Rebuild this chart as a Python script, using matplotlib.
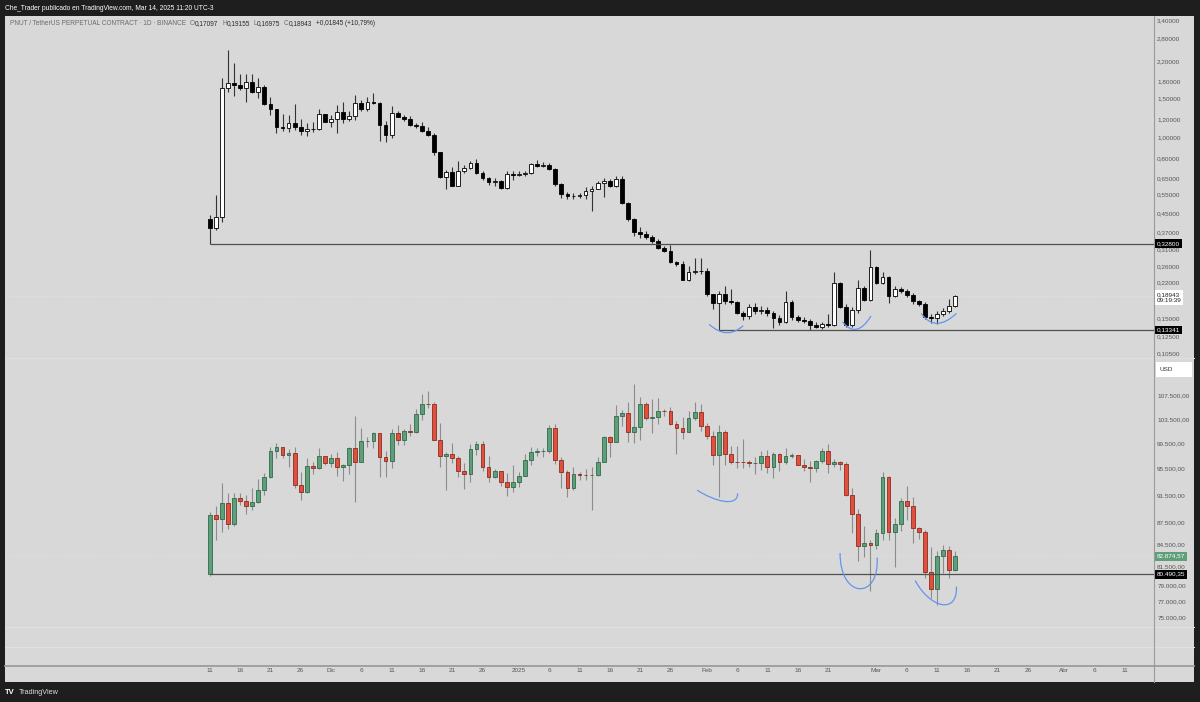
import numpy as np
import pandas as pd
import matplotlib
matplotlib.use("Agg")
import matplotlib.pyplot as plt
import matplotlib.dates as mdates
from matplotlib.path import Path
from matplotlib.patches import PathPatch, Rectangle
from matplotlib.lines import Line2D
from matplotlib.ticker import NullLocator
from matplotlib.transforms import blended_transform_factory

# ---- data -------------------------------------------------------------
dates = pd.date_range("2024-11-11", "2025-03-14", freq="D")

pnut_open = [0.425, 0.386, 0.436, 1.678, 1.757, 1.73, 1.68, 1.775, 1.60, 1.685,
             1.415, 1.343, 1.116, 1.10, 1.156, 1.116, 1.07, 1.085, 1.09, 1.274,
             1.176, 1.21, 1.305, 1.205, 1.248, 1.425, 1.339, 1.45, 1.43, 1.136,
             1.023, 1.283, 1.24, 1.21, 1.136, 1.12, 1.07, 1.023, 0.859, 0.658,
             0.693, 0.603, 0.702, 0.727, 0.766, 0.686, 0.651, 0.624, 0.63, 0.586,
             0.679, 0.675, 0.678, 0.69, 0.756, 0.74, 0.75, 0.72, 0.611, 0.552,
             0.54, 0.542, 0.545, 0.57, 0.585, 0.618, 0.635, 0.60, 0.645, 0.505,
             0.425, 0.37, 0.364, 0.351, 0.339, 0.315, 0.304, 0.27, 0.266, 0.226,
             0.245, 0.246, 0.248, 0.194, 0.177, 0.194, 0.181, 0.178, 0.16, 0.154,
             0.17, 0.163, 0.165, 0.159, 0.151, 0.145, 0.179, 0.152, 0.148, 0.147,
             0.141, 0.137, 0.142, 0.141, 0.217, 0.17, 0.14, 0.165, 0.207, 0.183,
             0.2565, 0.218, 0.233, 0.19, 0.204, 0.20, 0.193, 0.18, 0.175, 0.153,
             0.151, 0.158, 0.163, 0.17097]
pnut_high = [0.443, 0.547, 1.85, 2.49, 2.18, 1.93, 1.93, 1.93, 1.86, 1.72,
             1.527, 1.35, 1.274, 1.26, 1.41, 1.21, 1.156, 1.17, 1.35, 1.28,
             1.26, 1.40, 1.45, 1.32, 1.554, 1.475, 1.527, 1.58, 1.45, 1.184,
             1.385, 1.32, 1.26, 1.25, 1.16, 1.176, 1.11, 1.05, 0.86, 0.71,
             0.735, 0.78, 0.748, 0.78, 0.80, 0.70, 0.66, 0.65, 0.64, 0.70,
             0.70, 0.70, 0.70, 0.76, 0.79, 0.77, 0.76, 0.725, 0.62, 0.565,
             0.56, 0.56, 0.595, 0.60, 0.635, 0.65, 0.645, 0.665, 0.665, 0.51,
             0.43, 0.39, 0.375, 0.36, 0.345, 0.32, 0.325, 0.275, 0.275, 0.26,
             0.282, 0.282, 0.255, 0.195, 0.20, 0.212, 0.205, 0.18, 0.163, 0.175,
             0.176, 0.172, 0.17, 0.162, 0.156, 0.20, 0.182, 0.156, 0.152, 0.15,
             0.145, 0.145, 0.158, 0.245, 0.22, 0.175, 0.17, 0.225, 0.212, 0.308,
             0.26, 0.245, 0.235, 0.212, 0.21, 0.205, 0.197, 0.183, 0.178, 0.158,
             0.162, 0.168, 0.185, 0.19155]
pnut_low = [0.328, 0.379, 0.414, 1.609, 1.538, 1.64, 1.45, 1.58, 1.50, 1.40,
            1.26, 1.041, 1.07, 1.06, 1.078, 1.023, 1.013, 1.06, 1.078, 1.17,
            1.116, 1.041, 1.156, 1.184, 1.197, 1.315, 1.32, 1.415, 0.961, 0.954,
            0.995, 1.23, 1.19, 1.12, 1.10, 1.06, 1.01, 0.83, 0.65, 0.582,
            0.598, 0.598, 0.69, 0.715, 0.68, 0.64, 0.61, 0.60, 0.58, 0.58,
            0.64, 0.665, 0.665, 0.68, 0.73, 0.735, 0.71, 0.60, 0.53, 0.525,
            0.525, 0.53, 0.525, 0.464, 0.58, 0.537, 0.595, 0.595, 0.50, 0.415,
            0.355, 0.35, 0.345, 0.33, 0.31, 0.30, 0.268, 0.26, 0.225, 0.222,
            0.24, 0.24, 0.19, 0.166, 0.13341, 0.175, 0.175, 0.158, 0.148, 0.15,
            0.158, 0.158, 0.155, 0.136, 0.14, 0.143, 0.148, 0.145, 0.144, 0.1335,
            0.136, 0.135, 0.137, 0.139, 0.168, 0.138, 0.137, 0.16, 0.18, 0.18,
            0.215, 0.215, 0.176, 0.188, 0.196, 0.188, 0.175, 0.172, 0.15, 0.143,
            0.142, 0.155, 0.16, 0.16975]
pnut_close = pnut_open[1:] + [0.18943]

btc_open = [80490, 88648, 87952, 90375, 87325, 91032, 90587, 89855, 90465, 92310,
            94286, 98317, 98892, 97672, 97901, 93010, 91966, 95863, 95643, 97461,
            96407, 97185, 95841, 96003, 98768, 96593, 99920, 99923, 101171, 97356,
            96675, 101173, 100043, 101460, 101372, 104298, 106030, 105986, 100041, 97491,
            97755, 97225, 95105, 94686, 98676, 99376, 95785, 94164, 95163, 93530,
            92643, 93429, 94419, 96887, 98107, 98236, 98315, 102078, 96922, 95043,
            92484, 94701, 94566, 94488, 94516, 96535, 100505, 99757, 104078, 104556,
            101331, 102260, 106144, 103706, 103910, 104871, 104796, 102620, 102083, 101335,
            103734, 104722, 102430, 100636, 97700, 101328, 97763, 96613, 96555, 96500,
            96444, 96463, 97430, 95778, 97870, 96609, 97500, 97569, 96118, 95780,
            95671, 96644, 98305, 96181, 96551, 96258, 91552, 88680, 84250, 84708,
            84350, 86064, 94270, 86220, 87281, 90606, 89931, 86801, 86222, 80735,
            78600, 82862, 83722, 81066]
btc_high = [89000, 89956, 93265, 91790, 91850, 91779, 91450, 92594, 93905, 94831,
            98988, 99588, 98908, 98564, 98871, 94973, 97208, 96564, 98693, 97463,
            97836, 98130, 96306, 99000, 104088, 102039, 100552, 101399, 101204, 98270,
            101895, 102540, 101895, 102650, 105250, 107780, 108353, 106470, 102800, 98154,
            99540, 97450, 96416, 99404, 99960, 99963, 97544, 95525, 95174, 94903,
            96150, 94950, 97839, 98976, 98734, 98813, 102482, 102724, 97259, 95349,
            95837, 94977, 95378, 95837, 97371, 100681, 100700, 105865, 104988, 106422,
            109588, 107240, 106394, 106850, 107120, 105286, 105500, 103260, 103784, 104800,
            106457, 106012, 102783, 101456, 102500, 101700, 99149, 99120, 100137, 96880,
            97323, 98345, 98478, 98119, 98000, 98826, 97972, 97704, 97046, 96753,
            96899, 98711, 99475, 96980, 96650, 96500, 92540, 89414, 87078, 85120,
            86558, 95000, 94416, 88200, 91000, 92810, 91283, 86940, 86500, 84124,
            83617, 84359, 84300, 83500]
btc_low = [80300, 85072, 86127, 86668, 87073, 90057, 88723, 89376, 90357, 91500,
           94146, 97122, 97136, 95734, 92600, 90791, 91792, 94640, 95407, 96150,
           95693, 94395, 93579, 94660, 90500, 96500, 98950, 98772, 94150, 94257,
           95659, 99311, 99205, 100626, 101227, 103323, 105321, 100000, 95700, 92232,
           96398, 94200, 92403, 93448, 97600, 95200, 93500, 94014, 92881, 91317,
           92000, 92743, 94392, 96100, 97562, 97291, 97926, 96181, 92500, 91220,
           92207, 93840, 93712, 89256, 94346, 96500, 97275, 99700, 102277, 99651,
           99550, 100119, 103339, 101262, 102750, 104106, 102520, 97777, 100279, 101328,
           103320, 101560, 100279, 96150, 91231, 96150, 96155, 95676, 95620, 95688,
           94713, 95257, 94876, 94088, 95217, 96252, 97223, 96046, 95205, 93388,
           95029, 96415, 94871, 95770, 95227, 91349, 86050, 82256, 82716, 78258,
           83824, 85050, 85117, 81390, 86335, 87836, 84667, 85262, 80000, 77459,
           76606, 80667, 79939, 80900]
btc_close = btc_open[1:] + [82874.57]

pnut_ticks = [3.4, 2.8, 2.2, 1.8, 1.5, 1.2, 1.0, 0.8, 0.65, 0.55, 0.45, 0.37,
              0.31, 0.26, 0.22, 0.15, 0.125, 0.105]
btc_ticks = [107500, 103500, 99500, 95500, 91500, 87500, 84500, 81500, 79000, 77000, 75000]

time_tick_dates = ["2024-11-11", "2024-11-16", "2024-11-21", "2024-11-26", "2024-12-01",
                   "2024-12-06", "2024-12-11", "2024-12-16", "2024-12-21", "2024-12-26",
                   "2025-01-01", "2025-01-06", "2025-01-11", "2025-01-16", "2025-01-21",
                   "2025-01-26", "2025-02-01", "2025-02-06", "2025-02-11", "2025-02-16",
                   "2025-02-21", "2025-03-01", "2025-03-06", "2025-03-11", "2025-03-16",
                   "2025-03-21", "2025-03-26", "2025-04-01", "2025-04-06", "2025-04-11"]
time_tick_labels = ["11", "16", "21", "26", "Dic", "6", "11", "16", "21", "26",
                    "2025", "6", "11", "16", "21", "26", "Feb", "6", "11", "16",
                    "21", "Mar", "6", "11", "16", "21", "26", "Abr", "6", "11"]

pnut_support = [0.328, 0.13341]
btc_support = 80490.35

# ---- styling ------------------------------------------------------------
W, H = 1200, 702
BG = "#d8d8d8"
DARK = "#1e1e1e"
AXIS_TXT = "#555555"
BLUE = "#6495ed"
FS = 4.6

plt.rcParams["font.family"] = ["Liberation Sans", "DejaVu Sans"]


def fig_rect(x0, y0, x1, y1):
    # pixel box (top-left origin) -> figure fraction rect
    return [x0 / W, 1 - y1 / H, (x1 - x0) / W, (y1 - y0) / H]


def fmt_pnut(v):
    return f"{v:.5f}".replace(".", ",")


def fmt_btc(v):
    s = f"{v:,.2f}"
    return s.replace(",", "X").replace(".", ",").replace("X", ".")


def draw_candles(ax, x, o, h, l, c, up_face, up_edge, dn_face, dn_edge, wick):
    o, h, l, c = (np.asarray(a, dtype=float) for a in (o, h, l, c))
    up = c >= o
    ax.vlines(x, l, h, color=wick, lw=0.8, zorder=2)
    bottom = np.minimum(o, c)
    height = np.abs(c - o)
    ax.bar(x[up], height[up], bottom=bottom[up], width=0.62, color=up_face,
           edgecolor=up_edge, linewidth=0.6, zorder=3)
    ax.bar(x[~up], height[~up], bottom=bottom[~up], width=0.62, color=dn_face,
           edgecolor=dn_edge, linewidth=0.6, zorder=3)


def curve(ax, x0, pts):
    # hand drawn arc as a bezier, points are (day offset, price)
    n = len(pts)
    codes = [Path.MOVETO] + [Path.CURVE3 if n == 3 else Path.CURVE4] * (n - 1)
    verts = [(x0 + d, p) for d, p in pts]
    ax.add_patch(PathPatch(Path(verts, codes), fill=False, edgecolor=BLUE,
                           lw=0.9, zorder=6))


def price_tag(ax, price, text, fc, tc, dy=0.0, va="center"):
    trans = blended_transform_factory(ax.transAxes, ax.transData)
    ax.annotate(text, xy=(1, price), xycoords=trans, xytext=(1.8, dy),
                textcoords="offset points", va=va, ha="left", fontsize=FS,
                color=tc, linespacing=1.1,
                bbox=dict(boxstyle="square,pad=0.3", fc=fc, ec="none"),
                annotation_clip=False, zorder=10)


def style_pane(ax, ticks, labels):
    ax.set_facecolor(BG)
    for s in ax.spines.values():
        s.set_visible(False)
    ax.set_yscale("log")
    ax.yaxis.tick_right()
    ax.set_yticks(ticks)
    ax.set_yticklabels(labels)
    ax.yaxis.set_minor_locator(NullLocator())
    ax.tick_params(axis="y", length=0, pad=2.3, labelsize=FS, labelcolor=AXIS_TXT)
    ax.tick_params(axis="x", bottom=False, labelbottom=False)


def main():
    x = mdates.date2num(dates)
    x0 = x[0]

    fig = plt.figure(figsize=(W / 100, H / 100), dpi=100, facecolor=DARK)
    fig.add_artist(Rectangle((5 / W, 1 - 682 / H), 1189 / W, 666 / H,
                             transform=fig.transFigure, fc=BG, ec="none", zorder=0))

    ax_top = fig.add_axes(fig_rect(5, 16, 1154, 358))
    ax_btc = fig.add_axes(fig_rect(5, 358, 1154, 627), sharex=ax_top)
    ax_time = fig.add_axes(fig_rect(5, 666, 1154, 682), sharex=ax_top)

    # PNUT pane
    draw_candles(ax_top, x, pnut_open, pnut_high, pnut_low, pnut_close,
                 "white", "black", "black", "black", "#333333")
    style_pane(ax_top, pnut_ticks, [fmt_pnut(v) for v in pnut_ticks])
    ax_top.set_ylim(0.0995, 3.55)
    xr = x0 + 155.8
    ax_top.set_xlim(x0 - 33.8, xr)
    ax_top.hlines(pnut_support[0], x0, xr, color="#505050", lw=0.9, zorder=4)
    ax_top.hlines(pnut_support[1], x0 + 84, xr, color="#505050", lw=0.9, zorder=4)
    ax_top.axhline(pnut_close[-1], color="#e6e6e6", lw=0.6, ls=(0, (1, 1.5)), zorder=1)
    curve(ax_top, x0, [(82.4, 0.1415), (85.3, 0.1196), (88.0, 0.1394)])
    curve(ax_top, x0, [(104.4, 0.1454), (106.7, 0.1204), (109.1, 0.1543)])
    curve(ax_top, x0, [(117.4, 0.1585), (119.7, 0.1288), (123.2, 0.1585)])
    price_tag(ax_top, pnut_support[0], fmt_pnut(pnut_support[0]), "black", "white")
    price_tag(ax_top, pnut_support[1], fmt_pnut(pnut_support[1]), "black", "white")
    price_tag(ax_top, pnut_close[-1], fmt_pnut(pnut_close[-1]) + "\n09:19:39",
              "white", "#222222", dy=3.0, va="top")

    # BTC pane
    draw_candles(ax_btc, x, btc_open, btc_high, btc_low, btc_close,
                 "#5e9f7a", "#2f6b4b", "#e0503c", "#8e2b1f", "#8c8c8c")
    style_pane(ax_btc, btc_ticks, [fmt_btc(v) for v in btc_ticks])
    ax_btc.set_ylim(73870, 114290)
    ax_btc.hlines(btc_support, x0, xr, color="#505050", lw=0.9, zorder=4)
    ax_btc.axhline(btc_close[-1], color="#e6e6e6", lw=0.6, ls=(0, (1, 1.5)), zorder=1)
    curve(ax_btc, x0, [(80.4, 92240), (83.3, 90560), (87.1, 89680), (87.1, 91740)])
    curve(ax_btc, x0, [(104.0, 83290), (103.96, 77190), (110.6, 77190), (110.1, 82700)])
    curve(ax_btc, x0, [(116.4, 79650), (118.8, 76190), (123.4, 75320), (123.2, 78880)])
    price_tag(ax_btc, btc_close[-1], fmt_btc(btc_close[-1]), "#5e9f7a", "white")
    price_tag(ax_btc, btc_support, fmt_btc(btc_support), "black", "white")

    # time axis
    ax_time.set_facecolor(BG)
    for s in ax_time.spines.values():
        s.set_visible(False)
    ax_time.set_yticks([])
    ax_time.set_xticks(mdates.date2num(pd.to_datetime(time_tick_dates)))
    ax_time.set_xticklabels(time_tick_labels)
    ax_time.tick_params(axis="x", length=0, pad=-10, labelsize=FS, labelcolor=AXIS_TXT)

    # separators
    for yy, col, lw in [(358, "#e0e0e0", 0.8), (627, "#e0e0e0", 0.8),
                        (647, "#e0e0e0", 0.8), (666, "#9c9c9c", 1.3)]:
        fig.add_artist(Line2D([5 / W, 1194 / W], [1 - yy / H] * 2, color=col, lw=lw))
    fig.add_artist(Line2D([1154 / W] * 2, [1 - 16 / H, 1 - 682 / H], color="#9a9a9a", lw=0.8))

    # USD box
    fig.add_artist(Rectangle((1156 / W, 1 - 377 / H), 36 / W, 15 / H,
                             transform=fig.transFigure, fc="white", ec="none", zorder=5))
    fig.text(1160 / W, 1 - 369.5 / H, "USD", fontsize=FS, color="#333333", va="center", zorder=6)

    # header / legend / footer text
    fig.text(5 / W, 1 - 8 / H, "Che_Trader publicado en TradingView.com, Mar 14, 2025 11:20 UTC-3",
             color="white", fontsize=4.8, va="center")
    pieces = [("PNUT / TetherUS PERPETUAL CONTRACT · 1D · BINANCE", "#6a6a6a", 0),
              ("O", "#6a6a6a", 3), ("0,17097", "#2a2a2a", 0),
              ("H", "#6a6a6a", 2.5), ("0,19155", "#2a2a2a", 0),
              ("L", "#6a6a6a", 2.5), ("0,16975", "#2a2a2a", 0),
              ("C", "#6a6a6a", 2.5), ("0,18943", "#2a2a2a", 0),
              ("+0,01845 (+10,79%)", "#2a2a2a", 2.5)]
    t = fig.text(10 / W, 1 - 23.5 / H, pieces[0][0], color=pieces[0][1], fontsize=4.7, va="center")
    for s, col, gap in pieces[1:]:
        t = ax_top.annotate(s, xy=(1, 0.5), xycoords=t, xytext=(gap, 0),
                            textcoords="offset points", va="center", ha="left",
                            fontsize=4.7, color=col, annotation_clip=False)
    fig.text(5 / W, 1 - 692 / H, "TV", color="white", fontsize=5.5, weight="bold", va="center")
    fig.text(19 / W, 1 - 692 / H, "TradingView", color="#dddddd", fontsize=5.2, va="center")

    fig.savefig("out.png", dpi=100, facecolor=DARK)


if __name__ == "__main__":
    main()
